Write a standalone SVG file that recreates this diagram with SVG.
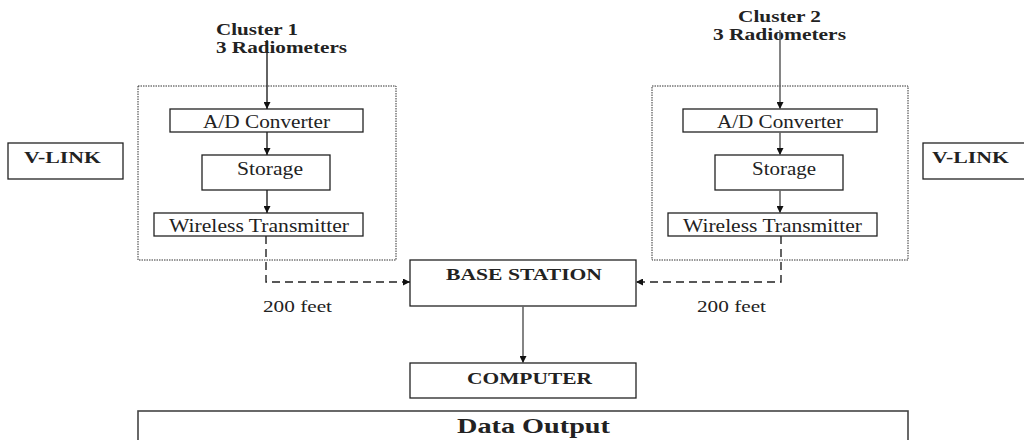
<svg xmlns="http://www.w3.org/2000/svg" width="1024" height="440" viewBox="0 0 1024 440">
<style>
.box{fill:#fff;stroke:#222;stroke-width:1.3}
.dot{fill:none;stroke:#333;stroke-width:1;stroke-dasharray:1.5,1}
.t{font-family:"Liberation Serif",serif;font-size:18.5px;fill:#222}
.b{font-family:"Liberation Serif",serif;font-size:17px;font-weight:bold;fill:#222}
.ln{fill:none;stroke:#222;stroke-width:1.4}
.lg{fill:none;stroke:#666;stroke-width:1.6}
.ds{fill:none;stroke:#222;stroke-width:1.4;stroke-dasharray:8,5}
.ft{font-family:"Liberation Serif",serif;font-size:17px;fill:#222}
.big{font-family:"Liberation Serif",serif;font-size:21px;font-weight:bold;fill:#222}
</style>
<defs>
<marker id="ah" viewBox="0 0 10 10" refX="10" refY="5" markerWidth="8" markerHeight="7" markerUnits="userSpaceOnUse" orient="auto"><path d="M0,0 L10,5 L0,10 z" fill="#111"/></marker>
</defs>
<rect width="1024" height="440" fill="#fff"/>
<g id="cluster1">
<rect class="dot" x="138" y="86" width="258" height="174"/>
<text class="b" x="216" y="35" textLength="82" lengthAdjust="spacingAndGlyphs">Cluster 1</text>
<text class="b" x="216" y="53" textLength="131" lengthAdjust="spacingAndGlyphs">3 Radiometers</text>
</g>
<g id="ad1"><rect class="box" x="170" y="109" width="193" height="23"/><text class="t" x="203" y="128" textLength="127" lengthAdjust="spacingAndGlyphs">A/D Converter</text></g>
<g id="storage1"><rect class="box" x="202" y="155" width="128" height="35"/><text class="t" x="237" y="175" textLength="66" lengthAdjust="spacingAndGlyphs">Storage</text></g>
<g id="wt1"><rect class="box" x="154" y="213" width="209" height="23"/><text class="t" x="169" y="232" textLength="180" lengthAdjust="spacingAndGlyphs">Wireless Transmitter</text></g>
<g id="cluster2">
<rect class="dot" x="652" y="86" width="256" height="174"/>
<text class="b" x="738" y="22" textLength="83" lengthAdjust="spacingAndGlyphs">Cluster 2</text>
<text class="b" x="713" y="40" textLength="133" lengthAdjust="spacingAndGlyphs">3 Radiometers</text>
</g>
<g id="ad2"><rect class="box" x="683" y="109" width="194" height="23"/><text class="t" x="717" y="128" textLength="126" lengthAdjust="spacingAndGlyphs">A/D Converter</text></g>
<g id="storage2"><rect class="box" x="715" y="155" width="128" height="35"/><text class="t" x="752" y="175" textLength="64" lengthAdjust="spacingAndGlyphs">Storage</text></g>
<g id="wt2"><rect class="box" x="668" y="213" width="209" height="23"/><text class="t" x="683" y="232" textLength="179" lengthAdjust="spacingAndGlyphs">Wireless Transmitter</text></g>
<g id="vlink1"><rect class="box" x="8" y="143" width="115" height="36"/><text class="b" x="24" y="163" textLength="77" lengthAdjust="spacingAndGlyphs">V-LINK</text></g>
<g id="vlink2"><rect class="box" x="923" y="143" width="110" height="36"/><text class="b" x="932" y="163" textLength="77" lengthAdjust="spacingAndGlyphs">V-LINK</text></g>
<g id="base"><rect class="box" x="410" y="260" width="226" height="46"/><text class="b" x="446" y="280" textLength="156" lengthAdjust="spacingAndGlyphs">BASE STATION</text></g>
<g id="computer"><rect class="box" x="410" y="363" width="226" height="35"/><text class="b" x="467" y="384" textLength="125" lengthAdjust="spacingAndGlyphs">COMPUTER</text></g>
<g id="dataoutput"><rect x="138" y="411" width="770" height="40" fill="#fff" stroke="#444" stroke-width="1.6"/><text class="big" x="457" y="433" textLength="153" lengthAdjust="spacingAndGlyphs">Data Output</text></g>
<g id="connectors">
<line class="ln" x1="267" y1="40" x2="267" y2="109" marker-end="url(#ah)"/>
<line class="ln" x1="267" y1="132" x2="267" y2="155" marker-end="url(#ah)"/>
<line class="ln" x1="267" y1="190" x2="267" y2="213" marker-end="url(#ah)"/>
<line class="lg" x1="780" y1="30" x2="780" y2="109" marker-end="url(#ah)"/>
<line class="lg" x1="780" y1="132" x2="780" y2="155" marker-end="url(#ah)"/>
<line class="lg" x1="780" y1="190" x2="780" y2="213" marker-end="url(#ah)"/>
<path class="ds" d="M266,236 V282 H410" marker-end="url(#ah)"/>
<path class="ds" d="M781,236 V282 H636" marker-end="url(#ah)"/>
<line class="lg" x1="523" y1="306" x2="523" y2="363" marker-end="url(#ah)"/>
<text class="ft" x="263" y="312" textLength="69" lengthAdjust="spacingAndGlyphs">200 feet</text>
<text class="ft" x="697" y="312" textLength="69" lengthAdjust="spacingAndGlyphs">200 feet</text>
</g>
</svg>
